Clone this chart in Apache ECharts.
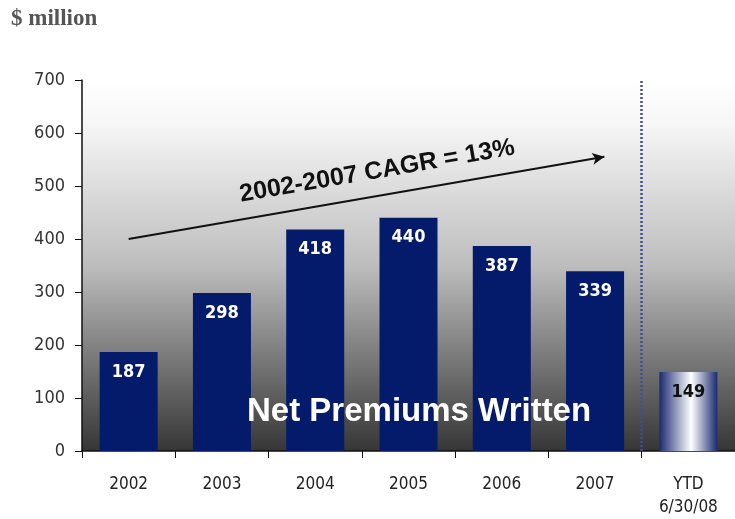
<!DOCTYPE html>
<html>
<head>
<meta charset="utf-8">
<script src="https://cdn.jsdelivr.net/npm/echarts@6/dist/echarts.min.js"></script>
<style>html,body{margin:0;padding:0;background:#fff;}#c{width:735px;height:519px;}</style>
</head>
<body>
<div id="c"></div>
<script>
const categories = ['2002', '2003', '2004', '2005', '2006', '2007', 'YTD\n6/30/08'];
const values = [187, 298, 418, 440, 387, 339, 149];
const yMin = 0, yMax = 700, yStep = 100;
const cagrStart = [0.5, 400];
const cagrEnd = [5.6, 555];
const cagrText = '2002-2007 CAGR = 13%';
const dividerAt = 6;
const unitText = '$ million';
const seriesName = 'Net Premiums Written';

const navy = '#041a6a';
const narrow = "'DejaVu Sans Condensed', 'Liberation Sans Narrow', 'Liberation Sans', Arial, sans-serif";

const barData = values.map((v, i) => {
  if (i === values.length - 1) {
    return {
      value: v,
      itemStyle: {
        color: new echarts.graphic.LinearGradient(0, 0, 1, 0, [
          { offset: 0, color: '#1a2a70' },
          { offset: 0.55, color: '#ffffff' },
          { offset: 1, color: '#1a2a70' }
        ])
      },
      label: { color: '#111' }
    };
  }
  return v;
});

const chart = echarts.init(document.getElementById('c'), null, { renderer: 'canvas' });
chart.setOption({
  animation: false,
  backgroundColor: '#fff',
  title: {
    text: '{n|$ }{b|million}',
    left: 6, top: 3,
    textStyle: {
      rich: {
        n: { fontFamily: "'Liberation Serif', 'DejaVu Serif', serif", fontSize: 23, color: '#555' },
        b: { fontFamily: "'Liberation Serif', 'DejaVu Serif', serif", fontSize: 23, fontWeight: 'bold', color: '#555' }
      }
    }
  },
  grid: {
    left: 82, top: 80, width: 658, height: 371,
    show: true, borderWidth: 0,
    backgroundColor: new echarts.graphic.LinearGradient(0, 0, 0, 1, [
      { offset: 0, color: '#ffffff' },
      { offset: 0.12, color: '#f6f6f6' },
      { offset: 0.5, color: '#bdbdbd' },
      { offset: 1, color: '#363636' }
    ])
  },
  xAxis: [{
    type: 'category',
    data: categories,
    boundaryGap: true,
    axisLine: { lineStyle: { color: '#111', width: 1.5 } },
    axisTick: { show: true, length: 7, lineStyle: { color: '#111' } },
    axisLabel: { color: '#222', fontSize: 17, fontFamily: narrow, margin: 22, lineHeight: 23 },
    splitLine: { show: false }
  }, {
    type: 'value', min: 0, max: categories.length, show: false
  }],
  yAxis: {
    type: 'value', min: yMin, max: yMax, interval: yStep,
    axisLine: { show: true, lineStyle: { color: '#111', width: 1.5 } },
    axisTick: { show: true, length: 7, lineStyle: { color: '#111' } },
    axisLabel: { color: '#333', fontSize: 18, fontFamily: narrow, margin: 17 },
    splitLine: { show: false }
  },
  series: [{
    name: seriesName,
    type: 'bar',
    data: barData,
    barWidth: 58,
    itemStyle: { color: navy },
    label: {
      show: true, position: 'insideTop', distance: 11,
      color: '#fff', fontWeight: 'bold', fontSize: 18, fontFamily: narrow
    },
    silent: true
  }, {
    type: 'line',
    xAxisIndex: 1,
    data: [],
    silent: true,
    markLine: {
      silent: true,
      animation: false,
      symbol: ['none', 'none'],
      label: { show: false },
      lineStyle: { color: '#4a4a90', type: [2, 2], width: 2.5 },
      data: [{ xAxis: dividerAt }]
    }
  }, {
    type: 'line',
    xAxisIndex: 1,
    data: [],
    silent: true,
    markLine: {
      silent: true,
      animation: false,
      symbol: ['none', 'arrow'],
      symbolSize: [9, 12],
      lineStyle: { color: '#111', type: 'solid', width: 2 },
      label: {
        show: true, position: 'middle', formatter: cagrText,
        color: '#111', fontSize: 25, fontWeight: 'bold',
        fontFamily: "'Liberation Sans', Arial, sans-serif", distance: 12,
        padding: [0, 0, 0, 30]
      },
      data: [[{ coord: cagrStart }, { coord: cagrEnd }]]
    }
  }],
  graphic: [{
    type: 'text',
    z: 100,
    left: 247, top: 395,
    style: {
      text: seriesName,
      fill: '#fff',
      font: "bold 33px 'Liberation Sans', Arial, sans-serif"
    }
  }]
});
</script>
</body>
</html>
